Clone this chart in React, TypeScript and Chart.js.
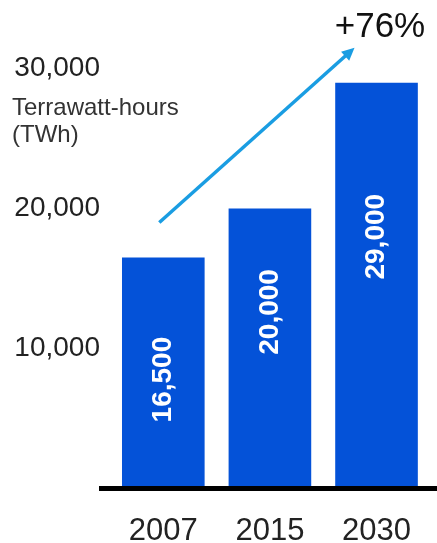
import React, { useEffect, useRef } from "react";
import { Chart, registerables } from "chart.js";

Chart.register(...registerables);

const categories = ["2007", "2015", "2030"];
const values = [16500, 20000, 29000];
const valueLabels = ["16,500", "20,000", "29,000"];
const yTicks = [10000, 20000, 30000];
const unitLines = ["Terrawatt-hours", "(TWh)"];
const growthLabel = "+76%";

const FONT = "'Liberation Sans', Arial, sans-serif";

const overlay = {
  id: "overlay",
  afterDatasetsDraw(chart: any) {
    const { ctx, chartArea, scales } = chart;
    const x = scales.x;
    const y = scales.y;
    ctx.save();
    // baseline
    ctx.strokeStyle = "#000";
    ctx.lineWidth = 5;
    ctx.beginPath();
    const y0 = y.getPixelForValue(0) + 0.5;
    ctx.moveTo(chartArea.left - 11, y0);
    ctx.lineTo(chart.width, y0);
    ctx.stroke();

    // labels inside bars
    const fr = [0.47, 0.63, 0.62];
    const meta = chart.getDatasetMeta(0);
    ctx.fillStyle = "#fff";
    ctx.font = "bold 28px " + FONT;
    ctx.textAlign = "center";
    ctx.textBaseline = "middle";
    meta.data.forEach((bar: any, i: number) => {
      const cy = y.getPixelForValue(values[i] * fr[i]);
      ctx.save();
      ctx.translate(bar.x, cy);
      ctx.rotate(-Math.PI / 2);
      ctx.fillText(valueLabels[i], 0, 0);
      ctx.restore();
    });

    // unit text
    ctx.fillStyle = "#333";
    ctx.font = "24px " + FONT;
    ctx.textAlign = "left";
    ctx.textBaseline = "alphabetic";
    ctx.fillText(unitLines[0], 12, 115);
    ctx.fillText(unitLines[1], 12, 142);

    // arrow
    const sx = x.getPixelForValue(0) - 4;
    const sy = y.getPixelForValue(19000);
    const ex = x.getPixelForValue(2) - 22;
    const ey = y.getPixelForValue(31500);
    const ang = Math.atan2(ey - sy, ex - sx);
    const head = 14;
    ctx.strokeStyle = "#1a9de2";
    ctx.fillStyle = "#1a9de2";
    ctx.lineWidth = 3.5;
    ctx.beginPath();
    ctx.moveTo(sx, sy);
    ctx.lineTo(ex - Math.cos(ang) * head * 0.8, ey - Math.sin(ang) * head * 0.8);
    ctx.stroke();
    ctx.beginPath();
    ctx.moveTo(ex, ey);
    ctx.lineTo(ex - head * Math.cos(ang - 0.45), ey - head * Math.sin(ang - 0.45));
    ctx.lineTo(ex - head * Math.cos(ang + 0.45), ey - head * Math.sin(ang + 0.45));
    ctx.closePath();
    ctx.fill();

    // growth label
    ctx.fillStyle = "#111";
    ctx.font = "35px " + FONT;
    ctx.textAlign = "center";
    ctx.fillText(growthLabel, 380, 37);
    ctx.restore();
  },
};

export default function App() {
  const ref = useRef<HTMLCanvasElement>(null);
  useEffect(() => {
    if (!ref.current) return;
    const chart = new Chart(ref.current, {
      type: "bar",
      data: {
        labels: categories,
        datasets: [
          {
            data: values,
            backgroundColor: "#0452d8",
            borderWidth: 0,
            barPercentage: 1,
            categoryPercentage: 0.775,
          },
        ],
      },
      options: {
        responsive: false,
        animation: false,
        layout: { padding: { left: 0, right: 6, top: 0, bottom: 0 } },
        plugins: { legend: { display: false }, tooltip: { enabled: false } },
        scales: {
          x: {
            grid: { display: false, drawTicks: false },
            border: { display: false },
            ticks: {
              color: "#222",
              font: { size: 31, family: FONT },
              padding: 25,
              maxRotation: 0,
            },
            afterFit: (s: any) => {
              s.height = 55;
            },
          },
          y: {
            min: 0,
            max: 33000,
            grid: { display: false, drawTicks: false },
            border: { display: false },
            afterBuildTicks: (s: any) => {
              s.ticks = yTicks.map((v) => ({ value: v }));
            },
            ticks: {
              color: "#222",
              font: { size: 28, family: FONT },
              padding: 10,
              callback: (v: any) => Number(v).toLocaleString("en-US"),
            },
            afterFit: (s: any) => {
              s.width = 110;
            },
          },
        },
      },
      plugins: [overlay],
    });
    return () => chart.destroy();
  }, []);
  return (
    <div style={{ position: "fixed", left: 0, top: 0, width: 437, height: 543 }}>
      <canvas ref={ref} width={437} height={543} />
    </div>
  );
}
